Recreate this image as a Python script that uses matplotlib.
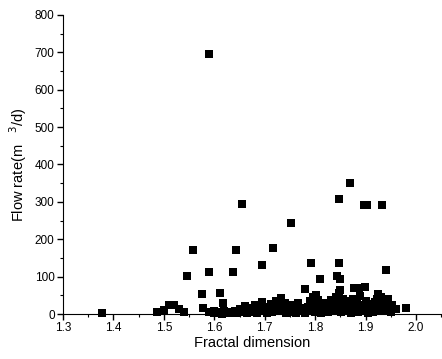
import matplotlib
matplotlib.use("Agg")
import matplotlib.pyplot as plt
from matplotlib.ticker import MultipleLocator

plt.rcParams['font.family'] = ['Liberation Sans', 'DejaVu Sans']

# scattered points well above the floor
fd_high = [1.377, 1.487, 1.500, 1.510, 1.520, 1.530, 1.540, 1.546, 1.557, 1.575,
           1.577, 1.589, 1.589, 1.589, 1.607, 1.611, 1.617, 1.637, 1.643, 1.654,
           1.694, 1.716, 1.751, 1.779, 1.791, 1.809, 1.843, 1.847, 1.847, 1.850,
           1.868, 1.876, 1.886, 1.896, 1.902, 1.898, 1.932, 1.940, 1.924, 1.961,
           1.979, 1.952, 1.849]
q_high = [3, 5, 10, 25, 25, 14, 5, 102, 171, 53,
          16, 695, 112, 5, 5, 56, 29, 112, 171, 294,
          131, 176, 243, 67, 136, 94, 102, 136, 307, 94,
          350, 70, 70, 291, 291, 73, 291, 118, 53, 13,
          16, 24, 64]

# dense band near zero
fd_low = [1.600, 1.600, 1.605, 1.610, 1.615, 1.620, 1.625, 1.630, 1.635, 1.640,
          1.645, 1.650, 1.655, 1.660, 1.662, 1.665, 1.670, 1.675, 1.680, 1.682,
          1.685, 1.690, 1.695, 1.700, 1.700, 1.705, 1.710, 1.712, 1.715, 1.720,
          1.722, 1.725, 1.730, 1.732, 1.735, 1.740, 1.742, 1.745, 1.750, 1.752,
          1.755, 1.760, 1.762, 1.765, 1.770, 1.775, 1.780, 1.785, 1.790, 1.790,
          1.795, 1.800, 1.800, 1.802, 1.805, 1.808, 1.810, 1.812, 1.815, 1.820,
          1.822, 1.825, 1.830, 1.832, 1.835, 1.840, 1.842, 1.845, 1.848, 1.850,
          1.852, 1.855, 1.858, 1.860, 1.862, 1.865, 1.868, 1.870, 1.872, 1.875,
          1.878, 1.880, 1.882, 1.885, 1.888, 1.890, 1.892, 1.895, 1.900, 1.902,
          1.905, 1.908, 1.910, 1.912, 1.915, 1.918, 1.920, 1.922, 1.925, 1.928,
          1.930, 1.932, 1.935, 1.938, 1.940, 1.945, 1.948, 1.950]
q_low = [3, 8, 2, 5, 1, 8, 3, 6, 2, 9,
         4, 14, 6, 22, 10, 3, 15, 6, 25, 12,
         4, 18, 33, 8, 20, 2, 12, 28, 5, 18,
         35, 8, 22, 42, 10, 30, 3, 15, 25, 6,
         12, 20, 2, 30, 8, 15, 4, 20, 10, 35,
         45, 25, 5, 50, 38, 15, 28, 3, 20, 10,
         30, 5, 18, 38, 8, 25, 45, 12, 55, 30,
         5, 40, 18, 28, 8, 35, 15, 3, 25, 40,
         10, 20, 30, 5, 48, 15, 25, 8, 35, 18,
         3, 28, 12, 22, 5, 32, 15, 40, 8, 25,
         45, 18, 35, 10, 28, 40, 15, 5]

fig = plt.figure(figsize=(4.42, 3.59), dpi=100)
ax = fig.add_axes([0.1425, 0.1253, 0.856, 0.833])

ax.scatter(fd_low + fd_high, q_low + q_high, marker='s', s=32,
           color='black', linewidths=0, clip_on=False, zorder=3)

ax.set_xlim(1.3, 2.05)
ax.set_ylim(0, 800)
ax.spines['top'].set_visible(False)
ax.spines['right'].set_visible(False)
ax.xaxis.set_minor_locator(MultipleLocator(0.05))
ax.yaxis.set_major_locator(MultipleLocator(100))
ax.yaxis.set_minor_locator(MultipleLocator(50))
ax.set_xticks([1.3, 1.4, 1.5, 1.6, 1.7, 1.8, 1.9, 2.0])
ax.set_xticklabels(['1.3', '1.4', '1.5', '1.6', '1.7', '1.8', '1.9', '2.0'])
ax.tick_params(which='major', length=4, width=1, labelsize=8.5, pad=2)
ax.tick_params(which='minor', length=2, width=0.8)

ax.set_xlabel('Fractal dimension', fontsize=10.5, labelpad=1)
ax.set_ylabel('Flow rate(m   $^{3}$/d)', fontsize=10.5, labelpad=4)

fig.savefig('out.png', dpi=100)
